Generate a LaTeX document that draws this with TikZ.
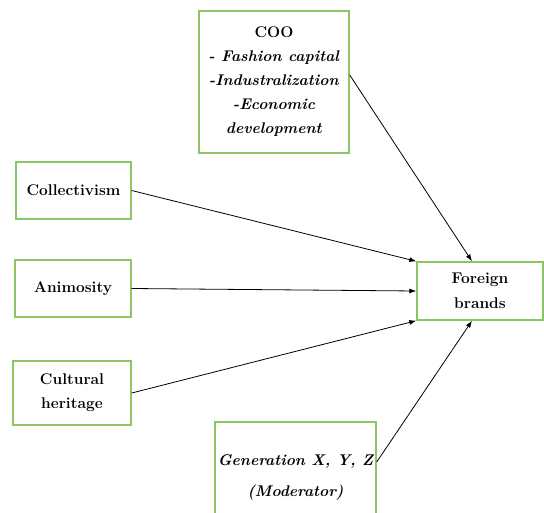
\documentclass[tikz,border=0pt]{standalone}
\usetikzlibrary{arrows.meta}

\definecolor{boxgreen}{RGB}{140,198,100}

\tikzset{
  factor/.style={draw=boxgreen, line width=1.4pt, fill=white, align=center,
    font=\fontsize{15.5}{24}\selectfont\bfseries, inner sep=2pt},
  link/.style={-{Latex[length=7pt,width=5pt]}, line width=0.8pt}
}

\begin{document}
\begin{tikzpicture}[x=1pt, y=-1pt]
      \useasboundingbox (0,0) rectangle (544,512);
      \clip (0,0) rectangle (544,512);

      \node[factor, minimum width=150pt, minimum height=142pt] (coo) at (274, 82)
        {COO\\\textit{- Fashion capital}\\\textit{-Industralization}\\\textit{-Economic}\\\textit{development}};
      \node[factor, minimum width=115pt, minimum height=57pt] (collect) at (73.5, 190.5) {Collectivism};
      \node[factor, minimum width=116pt, minimum height=57pt] (animos) at (73, 288.5) {Animosity};
      \node[factor, minimum width=118pt, minimum height=64pt] (heritage) at (72, 393) {Cultural\\heritage};
      \node[factor, minimum width=126pt, minimum height=58pt, font=\fontsize{15.5}{25}\selectfont\bfseries] (brands) at (480, 291) {Foreign\\brands};
      \node[factor, minimum width=161pt, minimum height=110pt, font=\fontsize{15.5}{31}\selectfont\bfseries\itshape] (gen) at (295.5, 477) {Generation X, Y, Z\\(Moderator)};

      \draw[link] (collect.east) -- (brands.north west);
      \draw[link] (animos.east) -- (brands.west);
      \draw[link] (heritage.east) -- (brands.south west);
      \draw[link] ([yshift=7pt]coo.east) -- ([xshift=-8pt]brands.north);
      \draw[link] ([yshift=15pt]gen.east) -- ([xshift=-8pt]brands.south);
\end{tikzpicture}
\end{document}
